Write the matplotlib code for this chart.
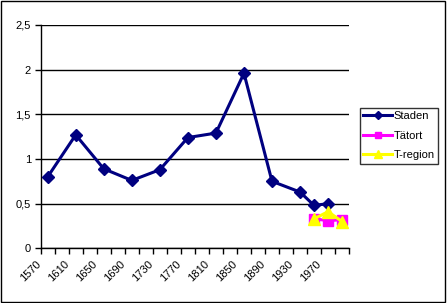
import matplotlib
matplotlib.use("Agg")
import matplotlib.pyplot as plt
import matplotlib.patches as patches
import matplotlib.transforms as mtransforms
import numpy as np

plt.rcParams['font.family'] = ['Liberation Sans', 'DejaVu Sans']

# category axis: 1570 .. 1990 in steps of 20
years = [1570 + 20 * i for i in range(22)]
tick_labels = [str(y) for y in years[0:21:2]]

staden_years = [1570, 1610, 1650, 1690, 1730, 1770, 1810, 1850, 1890, 1930, 1950, 1970]
staden = [0.80, 1.27, 0.89, 0.76, 0.88, 1.24, 1.29, 1.96, 0.75, 0.63, 0.48, 0.50]

tatort_years = [1950, 1970, 1990]
tatort = [0.33, 0.31, 0.32]

tregion_years = [1950, 1970, 1990]
tregion = [0.33, 0.41, 0.30]

def cat(ys):
    return [years.index(y) for y in ys]

fig = plt.figure(figsize=(4.47, 3.03), dpi=100)
ax = fig.add_axes([0.091, 0.1805, 0.690, 0.737])

ax.plot(cat(staden_years), staden, '-', color='#000080', lw=2.2,
        marker='D', ms=6.5, label='Staden', zorder=3)
ax.plot(cat(tatort_years), tatort, '-', color='#FF00FF', lw=2.2,
        marker='s', ms=7, label='Tätort', zorder=4)
ax.plot(cat(tregion_years), tregion, '-', color='#FFFF00', lw=2.2,
        marker='^', ms=8.5, label='T-region', zorder=5)

ax.set_xlim(-0.5, 21.5)
ax.set_ylim(0, 2.5)
ax.set_yticks(np.arange(0, 2.51, 0.5))
ax.set_yticklabels(['0', '0,5', '1', '1,5', '2', '2,5'], fontsize=8)
ax.yaxis.grid(True, color='black', lw=1)
ax.set_axisbelow(True)

ax.set_xticks(np.arange(-0.5, 22, 1))
ax.set_xticklabels([])
ax.tick_params(axis='both', direction='out', length=4, width=1, color='black')
ax.tick_params(axis='y', pad=3)

for s in ['top', 'right']:
    ax.spines[s].set_visible(False)
for s in ['left', 'bottom']:
    ax.spines[s].set_linewidth(1)

# rotated category labels, every second category
trans = mtransforms.blended_transform_factory(ax.transData, ax.transAxes)
off = mtransforms.ScaledTranslation(0, -14 / 100, fig.dpi_scale_trans)
for i, lab in enumerate(tick_labels):
    ax.text(2 * i - 0.6, 0, lab, transform=trans + off, rotation=45,
            rotation_mode='anchor', ha='right', va='center', fontsize=8)

leg = fig.legend(loc='upper left', bbox_to_anchor=(360 / 447, 1 - 108 / 303),
                 fontsize=8, frameon=True, fancybox=False, edgecolor='black',
                 handlelength=2.6, borderpad=0.3, labelspacing=0.85,
                 handletextpad=0.1, borderaxespad=0, markerscale=0.6)
leg.get_frame().set_linewidth(1)

# chart area border
fig.patches.append(patches.Rectangle((0.002, 0.003), 0.994, 0.993,
                                     transform=fig.transFigure, fill=False,
                                     edgecolor='black', lw=1))

fig.savefig('out.png', dpi=100)
